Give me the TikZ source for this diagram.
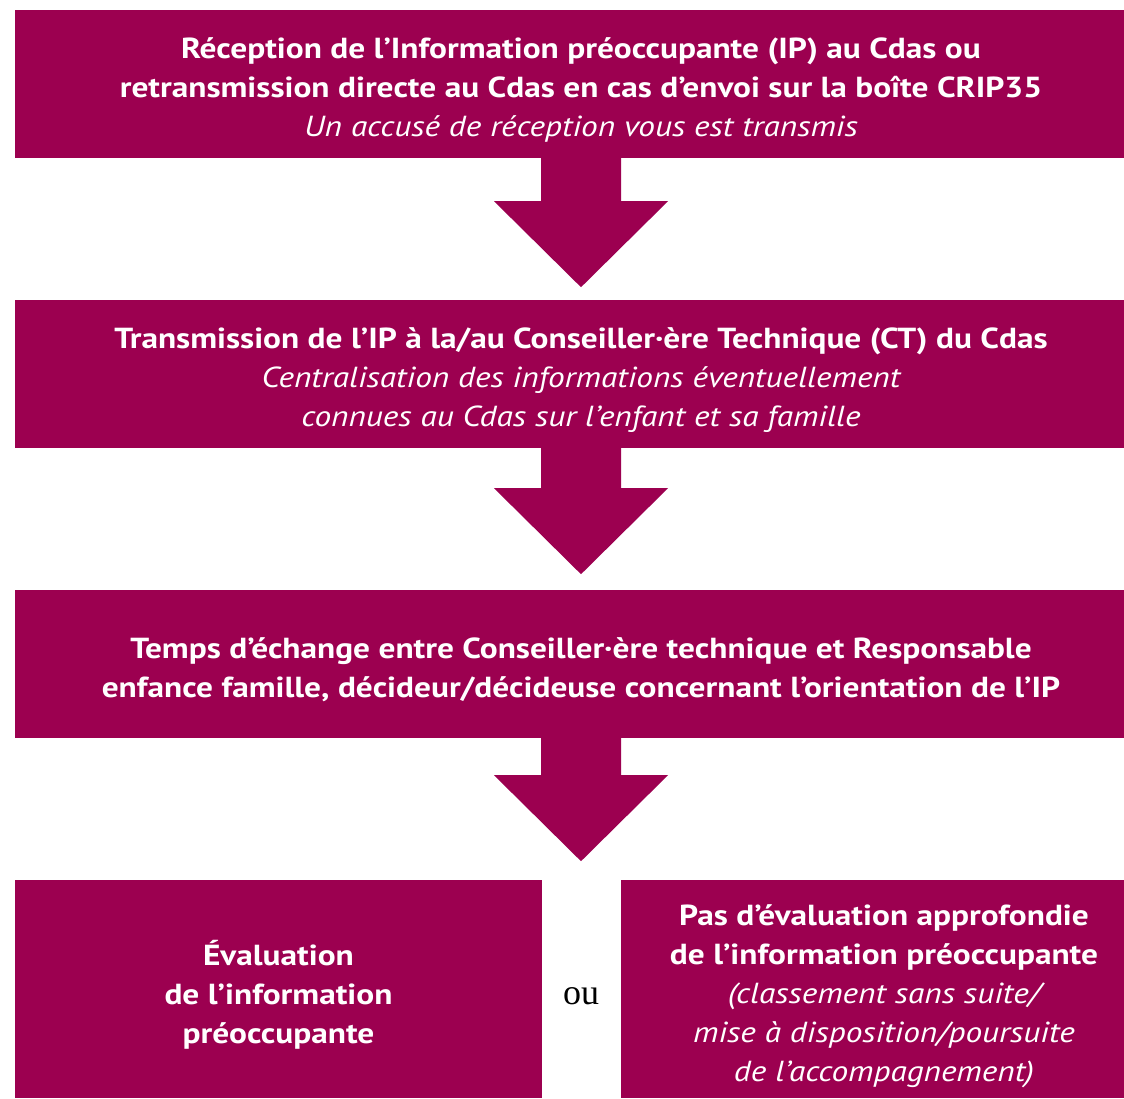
\documentclass[tikz,border=0pt]{standalone}
\usepackage{fontspec}
\setmainfont[FakeStretch=1.15]{PT Sans}
\newfontfamily\oufont{Liberation Serif}
\usetikzlibrary{calc}
\definecolor{ipc}{RGB}{156,0,80}
\tikzset{
  box/.style={rectangle, fill=ipc, inner sep=0pt},
  boxtext/.style={text=white, inner sep=0pt, align=center,
    font=\fontsize{29}{39}\selectfont\bfseries},
}
\newcommand\blockarr[3]{%
  \fill[ipc] ($(#1.south)+(-40,0)$) -- ($(#1.south)+(40,0)$) -- ($(#1.south)+(40,#2)$)
    -- ($(#1.south)+(87,#2)$) -- ($(#1.south)+(0,#3)$) -- ($(#1.south)+(-87,#2)$)
    -- ($(#1.south)+(-40,#2)$) -- cycle;}
\begin{document}
\begin{tikzpicture}[x=1pt,y=-1pt]
\useasboundingbox (0,0) rectangle (1124,1098);
\clip (0,0) rectangle (1124,1098);
\node[box, minimum width=1132, minimum height=148] (b1) at (581,84) {};
\node[box, minimum width=1132, minimum height=148] (b2) at (581,374) {};
\node[box, minimum width=1132, minimum height=148] (b3) at (581,664) {};
\node[box, minimum width=527, minimum height=218] (b4) at (278.5,989) {};
\node[box, minimum width=526, minimum height=218] (b5) at (884,989) {};
\node[boxtext] (t1) at ($(b1.center)+(0,6)$)
  {Réception de l’Information préoccupante (IP) au Cdas ou\\
   retransmission directe au Cdas en cas d’envoi sur la boîte CRIP35\\
   \mdseries\itshape Un accusé de réception vous est transmis};
\node[boxtext] (t2) at ($(b2.center)+(0,6)$)
  {Transmission de l’IP à la/au Conseiller·ère Technique (CT) du Cdas\\
   \mdseries\itshape Centralisation des informations éventuellement\\
   \mdseries\itshape connues au Cdas sur l’enfant et sa famille};
\node[boxtext] (t3) at ($(b3.center)+(0,6)$)
  {Temps d’échange entre Conseiller·ère technique et Responsable\\
   enfance famille, décideur/décideuse concernant l’orientation de l’IP};
\node[boxtext] (t4) at ($(b4.center)+(0,6)$)
  {Évaluation\\ de l’information\\ préoccupante};
\node[boxtext] (t5) at ($(b5.center)+(0,7)$)
  {Pas d’évaluation approfondie\\ de l’information préoccupante\\
   \mdseries\itshape (classement sans suite/\\
   \mdseries\itshape mise à disposition/poursuite\\
   \mdseries\itshape de l’accompagnement)};
\node[font=\oufont\fontsize{36}{40}\selectfont, inner sep=0pt] (ou) at (581,996) {ou};
\blockarr{b1}{43}{129}
\blockarr{b2}{40}{126}
\blockarr{b3}{37}{123}
\end{tikzpicture}
\end{document}
